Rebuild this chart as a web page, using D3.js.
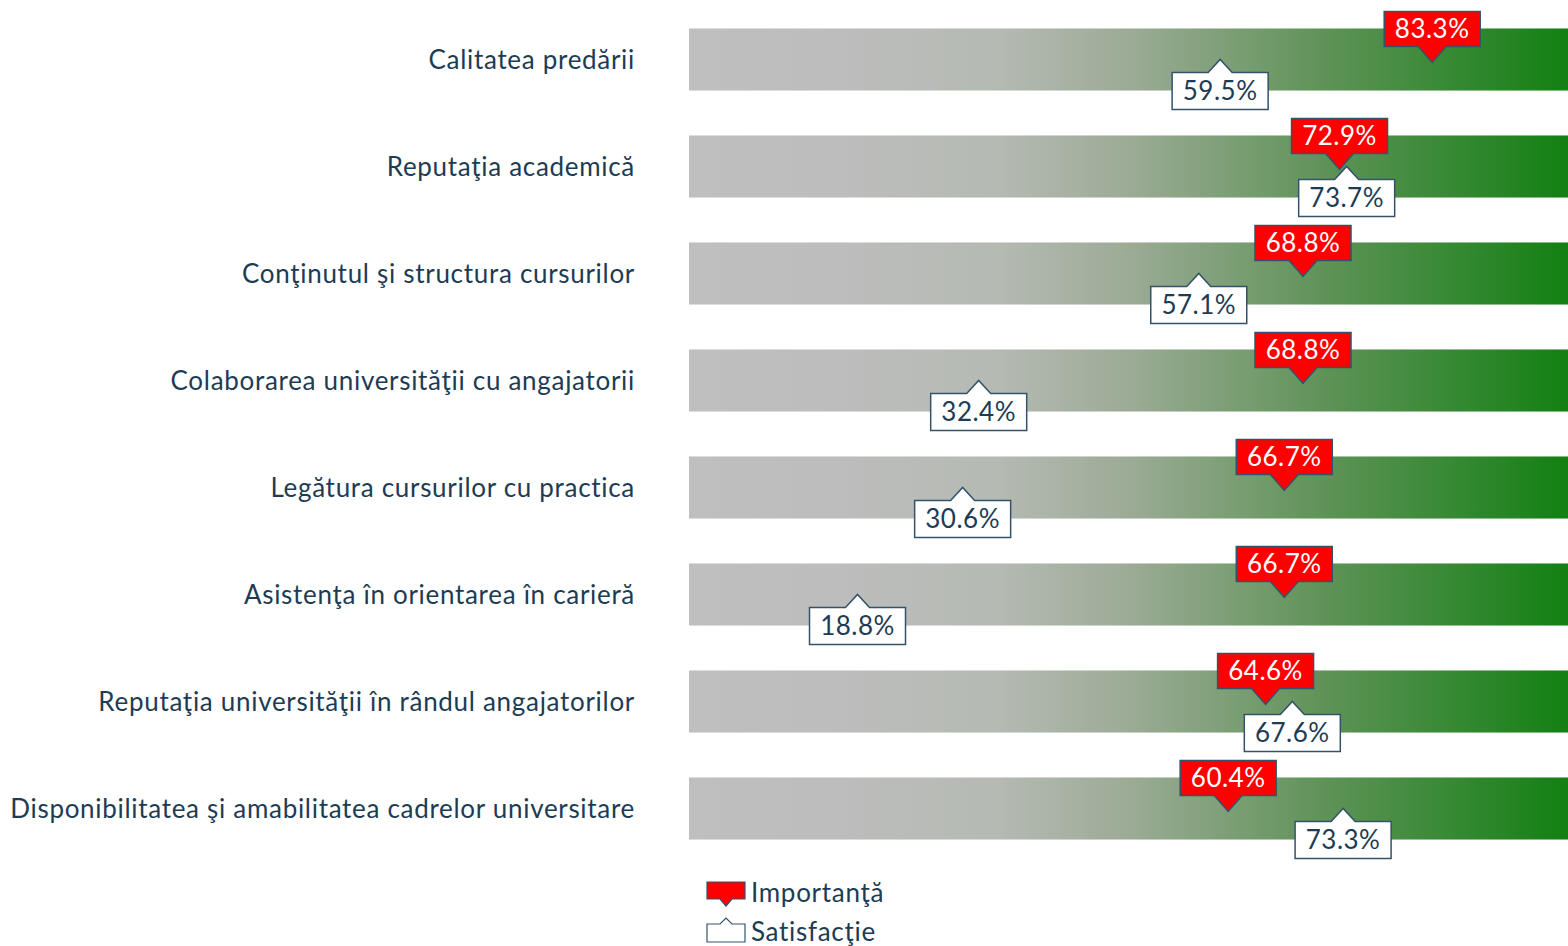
<!DOCTYPE html>
<html>
<head>
<meta charset="utf-8">
<script src="https://cdn.jsdelivr.net/npm/d3@7/dist/d3.min.js"></script>
<style>
  html, body { margin: 0; padding: 0; background: #fff; }
  svg { display: block; font-family: Lato, 'Open Sans', sans-serif; }
</style>
</head>
<body>
<svg width="1568" height="946"></svg>
<script>
const categories = [
  'Calitatea predării',
  'Reputaţia academică',
  'Conţinutul şi structura cursurilor',
  'Colaborarea universităţii cu angajatorii',
  'Legătura cursurilor cu practica',
  'Asistenţa în orientarea în carieră',
  'Reputaţia universităţii în rândul angajatorilor',
  'Disponibilitatea şi amabilitatea cadrelor universitare'
];
const importanta = [83.3, 72.9, 68.8, 68.8, 66.7, 66.7, 64.6, 60.4];
const satisfactie = [59.5, 73.7, 57.1, 32.4, 30.6, 18.8, 67.6, 73.3];
const legendLabels = ['Importanţă', 'Satisfacţie'];

const textColor = '#1d3c54';
const svg = d3.select('svg');

const x = d3.scaleLinear().domain([0, 100]).range([690, 1581]);
const y = d3.scaleBand().domain(categories).range([6, 862]).paddingInner(0.42).paddingOuter(0.21);

const defs = svg.append('defs');
const grad = defs.append('linearGradient')
  .attr('id', 'barGrad')
  .attr('gradientUnits', 'userSpaceOnUse')
  .attr('x1', x(0)).attr('x2', 1568).attr('y1', 0).attr('y2', 0);
[[0, '#bfbfbf'], [0.15, '#bdbdbd'], [0.35, '#b5bab3'], [0.5, '#9cab96'], [0.72, '#5f9358'], [1, '#138013']]
  .forEach(([o, c]) => grad.append('stop').attr('offset', o).attr('stop-color', c));

const rows = svg.append('g')
  .selectAll('g')
  .data(categories)
  .enter()
  .append('g')
  .attr('transform', d => `translate(0, ${y(d)})`);

rows.append('rect')
  .attr('x', x(0) - 1)
  .attr('width', 1568 - x(0) + 1)
  .attr('height', y.bandwidth())
  .attr('fill', 'url(#barGrad)');

rows.append('text')
  .attr('x', 635)
  .attr('y', y.bandwidth() / 2)
  .attr('dy', '0.35em')
  .attr('text-anchor', 'end')
  .attr('fill', textColor)
  .style('font-size', '26px')
  .style('letter-spacing', '0.7px')
  .text(d => d);

const bw = 96;
const bh = 35;

// red callout: box above, pointer down to value
function downCallout(cx, tipY, w, h, pw, ph) {
  const top = tipY - ph - h;
  const bot = tipY - ph;
  return `M${cx - w / 2},${top}H${cx + w / 2}V${bot}H${cx + pw}L${cx},${tipY}L${cx - pw},${bot}H${cx - w / 2}Z`;
}
// white callout: box below, pointer up to value
function upCallout(cx, tipY, w, h, pw, ph) {
  const top = tipY + ph;
  return `M${cx - w / 2},${top}H${cx - pw}L${cx},${tipY}L${cx + pw},${top}H${cx + w / 2}V${top + h}H${cx - w / 2}Z`;
}

const sat = rows.append('g');
sat.append('path')
  .attr('d', (d, i) => upCallout(x(satisfactie[i]), 31, bw, 37, 12, 13))
  .attr('fill', '#fff')
  .attr('stroke', '#34536a')
  .attr('stroke-width', 1.5);
sat.append('text')
  .attr('x', (d, i) => x(satisfactie[i]))
  .attr('y', 44 + 37 / 2)
  .attr('dy', '0.36em')
  .attr('text-anchor', 'middle')
  .attr('fill', textColor)
  .style('font-size', '26px')
  .style('letter-spacing', '0.5px')
  .text((d, i) => `${satisfactie[i].toFixed(1)}%`);

const imp = rows.append('g');
imp.append('path')
  .attr('d', (d, i) => downCallout(x(importanta[i]), 34, bw, bh, 14, 16))
  .attr('fill', '#ff0000')
  .attr('stroke', '#34536a')
  .attr('stroke-width', 1.5);
imp.append('text')
  .attr('x', (d, i) => x(importanta[i]))
  .attr('y', 34 - 16 - bh / 2)
  .attr('dy', '0.36em')
  .attr('text-anchor', 'middle')
  .attr('fill', '#fff')
  .style('font-size', '26px')
  .style('letter-spacing', '0.5px')
  .text((d, i) => `${importanta[i].toFixed(1)}%`);

// legend
const legend = svg.append('g').attr('transform', 'translate(707, 881)');
legend.append('path')
  .attr('d', downCallout(19, 25, 38, 17, 6, 7))
  .attr('fill', '#ff0000')
  .attr('stroke', '#34536a')
  .attr('stroke-width', 1.2);
legend.append('path')
  .attr('d', upCallout(19, 37, 38, 18, 6, 6))
  .attr('fill', '#fff')
  .attr('stroke', '#34536a')
  .attr('stroke-width', 1.2);
legend.selectAll('text')
  .data(legendLabels)
  .enter()
  .append('text')
  .attr('x', 44)
  .attr('y', (d, i) => 12 + i * 39)
  .attr('dy', '0.36em')
  .attr('fill', textColor)
  .style('font-size', '26px')
  .style('letter-spacing', '0.7px')
  .text(d => d);
</script>
</body>
</html>
